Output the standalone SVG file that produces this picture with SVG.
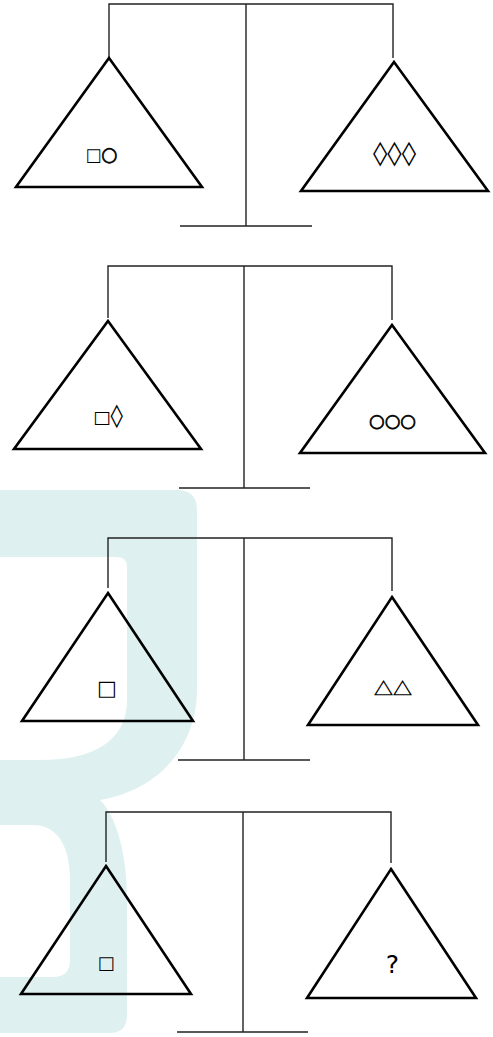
<svg xmlns="http://www.w3.org/2000/svg" width="493" height="1037" viewBox="0 0 493 1037">
<style>
.beam{stroke:#222;stroke-width:1.4;fill:none}
.pan{stroke:#000;stroke-width:2.6;fill:none;stroke-linejoin:miter}
.sym{font-family:"DejaVu Sans",sans-serif;fill:#000;text-anchor:middle}
.o{font-weight:bold;stroke:#000;stroke-width:0.7}
</style>
<rect width="493" height="1037" fill="#fff"/>
<g id="watermark">
<path fill="#dff0f0" fill-rule="evenodd" d="M0,490 H177 Q197,490 197,510 V690 C197,745 160,790 100,800 C115,815 127,850 127,900 V1015 Q127,1033 110,1033 H0 Z M0,557 H117 Q127,557 127,567 V700 C127,740 95,760 40,760 H0 Z M0,825 H33 C60,825 70,850 70,880 V960 Q70,977 53,977 H0 Z"/>
</g>
<g id="connectors">
<path class="beam" d="M109,58 V4 H393 V58 M246,4 V226 M180,226 H312"/>
<path class="beam" d="M108,318 V266 H392 V320 M244,266 V488 M179,488 H310"/>
<path class="beam" d="M108,588 V538 H392 V591 M244,538 V760 M178,760 H310"/>
<path class="beam" d="M106,862 V812 H391 V863 M243,812 V1032 M177,1032 H308"/>
</g>
<g id="b1-left"><path class="pan" d="M109,58 L202,187 H16 Z"/><text class="sym" x="101.5" y="160.5" textLength="32" lengthAdjust="spacingAndGlyphs"><tspan font-size="18">□</tspan><tspan class="o" font-size="20">○</tspan></text></g>
<g id="b1-right"><path class="pan" d="M394,62 L488,191 H301 Z"/><text class="sym" x="394.5" y="161" font-size="24" textLength="43" lengthAdjust="spacingAndGlyphs">◊◊◊</text></g>
<g id="b2-left"><path class="pan" d="M108,321 L201,449 H14 Z"/><text class="sym" x="108" y="423" textLength="30" lengthAdjust="spacingAndGlyphs"><tspan font-size="17">□</tspan><tspan font-size="23">◊</tspan></text></g>
<g id="b2-right"><path class="pan" d="M392,325 L485,453 H300 Z"/><text class="sym o" x="392.5" y="427" font-size="18" textLength="47" lengthAdjust="spacingAndGlyphs">○○○</text></g>
<g id="b3-left"><path class="pan" d="M108,593 L193,721 H22 Z"/><text class="sym" x="107" y="695" font-size="21" font-weight="bold">□</text></g>
<g id="b3-right"><path class="pan" d="M392,597 L478,725 H308 Z"/><text class="sym" x="393" y="693" font-size="20" textLength="38" lengthAdjust="spacingAndGlyphs">△△</text></g>
<g id="b4-left"><path class="pan" d="M106,866 L191,994 H21 Z"/><text class="sym" x="106" y="969" font-size="18">□</text></g>
<g id="b4-right"><path class="pan" d="M391,869 L476,998 H307 Z"/><text class="sym" x="392.5" y="973" font-size="25">?</text></g>
</svg>
